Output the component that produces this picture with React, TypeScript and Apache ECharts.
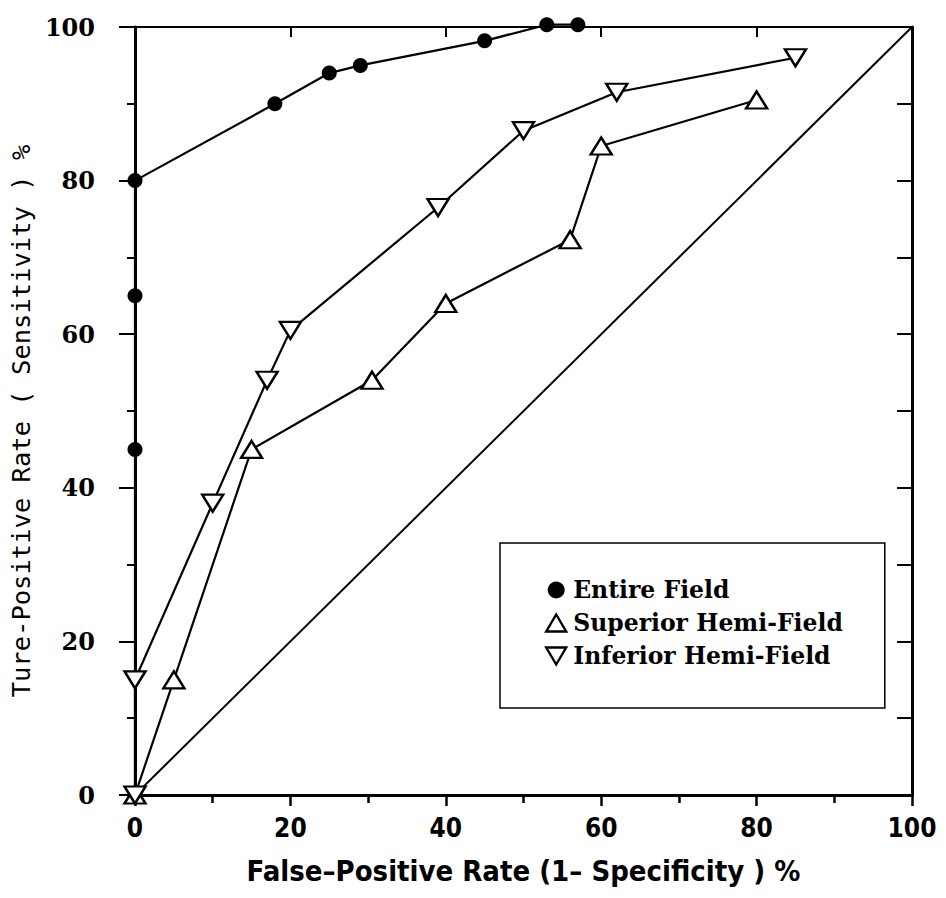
import React, { useEffect, useRef } from "react";
import * as echarts from "echarts";

const seriesNames = ["Entire Field", "Superior Hemi-Field", "Inferior Hemi-Field"];

const entireField: [number, number][] = [
  [0, 0], [0, 45], [0, 65], [0, 80], [18, 90], [25, 94], [29, 95], [45, 98.2], [53, 100.3], [57, 100.3],
];
const superiorHemi: [number, number][] = [
  [0, 0], [5, 15], [15, 45], [30.5, 54], [40, 64], [56, 72.3], [60, 84.5], [80, 90.5],
];
const inferiorHemi: [number, number][] = [
  [0, 0], [0, 15], [10, 38], [17, 54], [20, 60.5], [39, 76.5], [50, 86.5], [62, 91.5], [85, 96],
];
const chanceLine: [number, number][] = [
  [0, 0], [100, 100],
];

const xTitle = "False\u2013Positive Rate (1\u2013 Specificity ) %";
const yTitle = "Ture-Positive Rate ( Sensitivity ) %";

const INV_TRI = "path://M0,0 L20,0 L10,17 Z";

export default function App() {
  const ref = useRef<HTMLDivElement>(null);
  useEffect(() => {
    if (!ref.current) return;
    const chart = echarts.init(ref.current, null, { renderer: "svg" });
    const black = "#000";
    const lineW = 2.2;
    const hollow = { color: "#fff", borderColor: black, borderWidth: 2.4 };
    chart.setOption({
      animation: false,
      backgroundColor: "#fff",
      grid: { left: 135, right: 34, top: 27, bottom: 103, containLabel: false },
      xAxis: [
        {
          type: "value",
          position: "bottom",
          min: 0,
          max: 100,
          interval: 20,
          axisLine: { show: true, onZero: false, lineStyle: { color: black, width: 3 } },
          axisTick: { show: true, inside: false, length: 11, lineStyle: { color: black, width: 2.5 } },
          minorTick: { show: true, splitNumber: 2, length: 8, lineStyle: { color: black, width: 2.5 } },
          splitLine: { show: false },
          axisLabel: {
            show: true,
            margin: 20,
            color: black,
            fontFamily: "DejaVu Sans Condensed, DejaVu Sans",
            fontWeight: "bold",
            fontSize: 26,
          },
          name: xTitle,
          nameLocation: "middle",
          nameGap: 61,
          nameTextStyle: {
            color: black,
            fontFamily: "DejaVu Sans Condensed, DejaVu Sans",
            fontWeight: "bold",
            fontSize: 29,
          },
        },
        {
          type: "value",
          position: "top",
          min: 0,
          max: 100,
          interval: 20,
          axisLine: { show: true, onZero: false, lineStyle: { color: black, width: 2 } },
          axisTick: { show: true, inside: true, length: 10, lineStyle: { color: black, width: 2 } },
          splitLine: { show: false },
          axisLabel: { show: false },
        },
      ],
      yAxis: [
        {
          type: "value",
          position: "left",
          min: 0,
          max: 100,
          interval: 20,
          axisLine: { show: true, onZero: false, lineStyle: { color: black, width: 3 } },
          axisTick: { show: true, inside: false, length: 16, lineStyle: { color: black, width: 2 } },
          minorTick: { show: true, splitNumber: 2, length: 8, lineStyle: { color: black, width: 2 } },
          splitLine: { show: false },
          axisLabel: {
            show: true,
            margin: 40,
            color: black,
            fontFamily: "DejaVu Serif",
            fontWeight: "bold",
            fontSize: 24,
          },
          name: yTitle,
          nameLocation: "middle",
          nameGap: 100,
          nameRotate: 90,
          nameTextStyle: {
            color: black,
            fontFamily: "DejaVu Sans Mono",
            fontSize: 25.5,
            padding: [0, 20, 0, 0],
          },
        },
        {
          type: "value",
          position: "right",
          min: 0,
          max: 100,
          interval: 10,
          axisLine: { show: true, onZero: false, lineStyle: { color: black, width: 3 } },
          axisTick: { show: true, inside: true, length: 15, lineStyle: { color: black, width: 2 } },
          splitLine: { show: false },
          axisLabel: { show: false },
        },
      ],
      legend: {
        show: true,
        orient: "vertical",
        left: 500,
        top: 543,
        padding: [35, 42, 40, 45],
        itemGap: 9,
        itemWidth: 20,
        itemHeight: 17,
        borderColor: black,
        borderWidth: 1.5,
        backgroundColor: "#fff",
        selectedMode: false,
        textStyle: {
          color: black,
          fontFamily: "DejaVu Serif",
          fontWeight: "bold",
          fontSize: 23.5,
          padding: [0, 0, 0, 2],
        },
        data: [
          { name: seriesNames[0], icon: "circle", itemStyle: { color: black, borderWidth: 0 } },
          { name: seriesNames[1], icon: "triangle", itemStyle: { ...hollow } },
          { name: seriesNames[2], icon: INV_TRI, itemStyle: { ...hollow } },
        ],
      },
      series: [
        {
          name: "chance",
          type: "line",
          data: chanceLine,
          symbol: "none",
          lineStyle: { color: black, width: 2 },
          z: 1,
          silent: true,
        },
        {
          name: seriesNames[0],
          type: "line",
          data: entireField,
          symbol: "circle",
          symbolSize: 15,
          clip: false,
          itemStyle: { color: black, borderWidth: 0 },
          lineStyle: { color: black, width: lineW },
          z: 3,
        },
        {
          name: seriesNames[1],
          type: "line",
          data: superiorHemi,
          symbol: "triangle",
          symbolSize: [21, 17],
          clip: false,
          itemStyle: hollow,
          lineStyle: { color: black, width: lineW },
          z: 3,
        },
        {
          name: seriesNames[2],
          type: "line",
          data: inferiorHemi,
          symbol: "triangle",
          symbolRotate: 180,
          symbolSize: [21, 17],
          clip: false,
          itemStyle: hollow,
          lineStyle: { color: black, width: lineW },
          z: 3,
        },
      ],
    });
    return () => chart.dispose();
  }, []);
  return (
    <div
      ref={ref}
      style={{ position: "absolute", left: 0, top: 0, width: 946, height: 898 }}
    />
  );
}
